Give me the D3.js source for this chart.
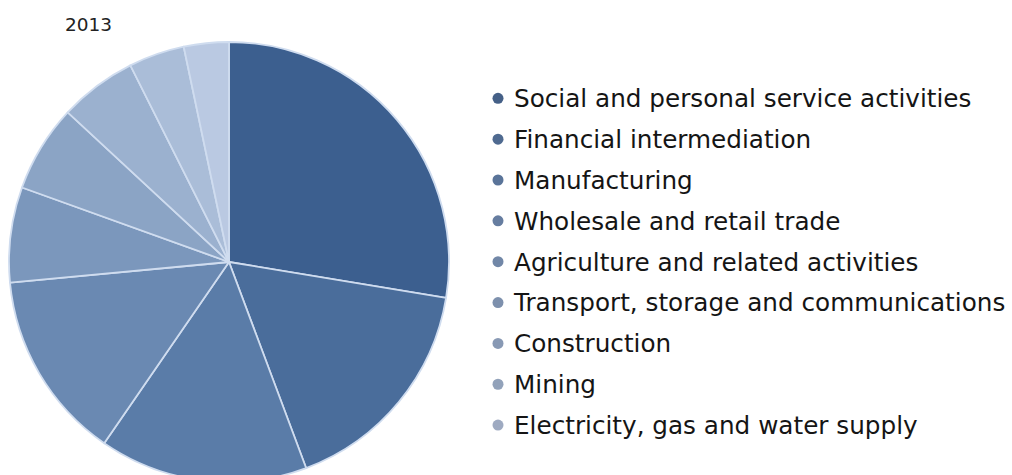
<!DOCTYPE html>
<html>
<head>
<meta charset="utf-8">
<script src="https://cdn.jsdelivr.net/npm/d3@7"></script>
<style>
  html, body { margin: 0; padding: 0; background: #fff; }
  svg { display: block; font-family: "DejaVu Sans", Verdana, sans-serif; }
</style>
</head>
<body>
<svg id="chart" width="1012" height="475"></svg>
<script>
var year = "2013";
var sectors = [
  "Social and personal service activities",
  "Financial intermediation",
  "Manufacturing",
  "Wholesale and retail trade",
  "Agriculture and related activities",
  "Transport, storage and communications",
  "Construction",
  "Mining",
  "Electricity, gas and water supply"
];
var shares = [27.6, 16.7, 15.3, 13.9, 7.0, 6.4, 5.7, 4.1, 3.3];
var colours = ["#3c5f8f", "#4a6d9b", "#5a7ca8", "#6a89b2", "#7b97bc",
               "#8ba4c5", "#9bb1cf", "#aabdd8", "#bac9e2"];

var svg = d3.select("#chart"),
    cx = 229, cy = 262, radius = 220;

var data = sectors.map(function(s, i) { return { name: s, value: shares[i] }; });

var pie = d3.pie().sort(null).value(function(d) { return d.value; });
var arc = d3.arc().innerRadius(0).outerRadius(radius);
var colour = d3.scaleOrdinal().domain(sectors).range(colours);

svg.append("text")
    .attr("x", 65)
    .attr("y", 31)
    .attr("fill", "#222")
    .style("font-size", "18.5px")
    .text(year);

var g = svg.append("g")
    .attr("transform", "translate(" + cx + "," + cy + ")");

g.selectAll("path")
  .data(pie(data))
  .enter().append("path")
    .attr("d", arc)
    .attr("fill", function(d) { return colour(d.data.name); })
    .attr("stroke", "#cfdcef")
    .attr("stroke-width", 1.8)
    .attr("stroke-linejoin", "round");

// legend
var legend = svg.append("g").attr("transform", "translate(498,98.3)");
var rows = legend.selectAll(".row")
  .data(sectors)
  .enter().append("g")
    .attr("class", "row")
    .attr("transform", function(d, i) { return "translate(0," + (i * 40.85) + ")"; });

rows.append("circle")
    .attr("r", 5.5)
    .attr("fill", function(d) { return d3.interpolateRgb(colour(d), "#5b6275")(0.3); });

rows.append("text")
    .attr("x", 16)
    .attr("dy", "0.36em")
    .attr("fill", "#151515")
    .style("font-size", "24.7px")
    .text(function(d) { return d; });
</script>
</body>
</html>
